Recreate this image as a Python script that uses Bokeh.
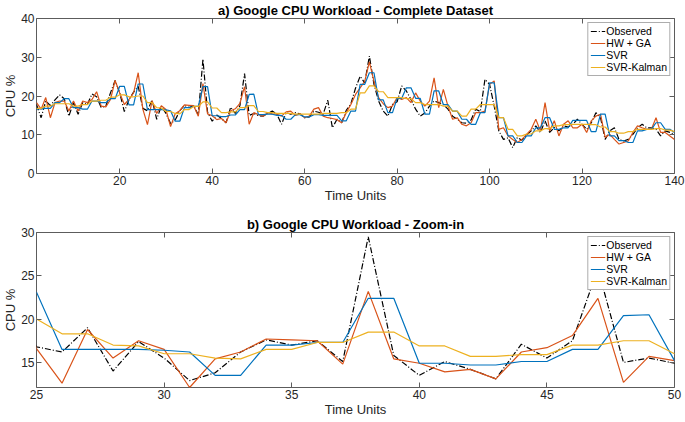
from bokeh.plotting import figure
from bokeh.models import Range1d, FixedTicker, LinearAxis
from bokeh.layouts import column
from bokeh.embed import file_html
from bokeh.resources import INLINE

# ---------------- data ----------------
time_units = list(range(2, 141))

observed = [17.8, 14.4, 18.7, 17.5, 19.0, 20.3, 19.3, 14.8, 18.3, 15.3,
            18.3, 17.8, 20.5, 19.8, 17.0, 17.4, 20.8, 24.0, 20.8, 16.0,
            19.0, 21.0, 22.5, 16.8, 16.2, 19.0, 14.0, 17.4, 15.5, 12.9,
            13.8, 16.2, 17.6, 17.0, 17.5, 15.1, 29.5, 15.8, 13.5, 15.1,
            14.2, 13.1, 17.1, 15.5, 17.5, 25.8, 15.0, 15.5, 14.9, 14.8,
            15.5, 16.1, 15.3, 12.7, 15.7, 15.3, 15.7, 15.4, 14.4, 14.6,
            16.1, 15.8, 15.3, 18.9, 11.8, 14.0, 13.1, 16.3, 18.0, 22.0,
            25.1, 23.4, 30.3, 23.0, 18.7, 16.1, 14.8, 17.8, 18.5, 22.6,
            21.3, 19.1, 16.6, 14.8, 15.6, 17.4, 18.7, 18.3, 17.8, 16.6,
            14.8, 14.0, 13.1, 13.0, 13.8, 16.6, 16.0, 24.3, 23.0, 17.4,
            11.0, 8.8, 9.2, 6.7, 9.3, 8.6, 9.9, 11.0, 12.3, 10.6,
            13.6, 10.6, 11.9, 11.0, 12.3, 12.0, 12.7, 14.0, 12.7, 11.4,
            13.1, 15.7, 14.4, 8.8, 11.0, 11.8, 8.8, 8.4, 8.8, 10.1,
            11.8, 12.7, 11.8, 11.8, 11.4, 9.7, 11.0, 10.6, 10.1]

hw_ga = [18.3, 16.6, 19.6, 14.4, 18.3, 18.7, 18.7, 16.1, 18.7, 16.1,
         18.7, 18.3, 19.1, 21.1, 17.4, 17.2, 19.1, 24.0, 20.8, 17.8,
         19.1, 20.8, 26.0, 16.6, 12.6, 18.8, 15.5, 17.5, 16.5, 12.1,
         15.4, 16.2, 17.7, 17.6, 17.5, 14.8, 23.2, 15.4, 14.9, 13.9,
         14.2, 13.1, 16.2, 16.7, 18.1, 22.4, 12.7, 15.7, 15.2, 14.8,
         15.7, 15.4, 15.3, 14.8, 15.9, 16.1, 15.0, 15.4, 14.4, 14.8,
         16.6, 17.0, 14.8, 14.4, 14.2, 13.9, 13.1, 15.7, 17.8, 20.4,
         22.1, 23.8, 28.8, 23.8, 19.6, 18.0, 17.0, 17.4, 19.6, 19.1,
         19.6, 18.3, 20.8, 18.7, 17.4, 18.7, 24.7, 17.0, 21.7, 17.4,
         14.0, 14.4, 12.7, 12.3, 13.1, 15.7, 15.7, 16.1, 23.0, 23.9,
         11.4, 11.8, 9.7, 8.8, 8.0, 8.8, 10.1, 11.4, 14.0, 11.0,
         18.3, 11.0, 13.6, 9.7, 12.7, 13.6, 11.8, 11.8, 12.7, 10.6,
         13.6, 14.8, 15.3, 9.3, 10.1, 8.8, 7.6, 8.0, 8.4, 10.6,
         12.3, 11.8, 11.4, 11.4, 14.4, 10.6, 10.6, 9.7, 8.8]

svr = [16.7, 16.7, 16.8, 16.8, 18.3, 18.3, 19.3, 19.3, 17.0, 17.0,
       16.6, 16.6, 18.7, 18.7, 18.3, 18.3, 19.3, 19.3, 22.5, 22.5,
       17.7, 17.7, 23.1, 23.1, 16.5, 16.5, 16.5, 16.5, 16.4, 16.2,
       13.5, 13.5, 17.0, 17.0, 17.3, 17.3, 22.4, 22.4, 14.9, 14.9,
       14.7, 14.7, 15.1, 15.1, 16.5, 16.5, 20.4, 20.5, 15.2, 15.2,
       15.3, 15.3, 15.0, 15.0, 14.0, 14.0, 15.2, 15.2, 14.6, 14.6,
       15.2, 15.2, 15.0, 15.0, 15.0, 15.0, 13.6, 13.6, 16.1, 16.1,
       23.0, 23.0, 26.0, 26.0, 19.0, 19.0, 15.7, 15.7, 19.4, 19.4,
       22.1, 22.1, 19.4, 19.4, 15.3, 15.3, 21.3, 21.3, 17.8, 17.8,
       16.1, 16.1, 14.0, 14.0, 12.7, 12.7, 15.7, 15.7, 23.4, 23.4,
       14.4, 14.4, 9.7, 9.7, 8.0, 8.0, 9.7, 9.7, 11.8, 11.8,
       14.4, 14.4, 11.4, 11.4, 11.8, 11.8, 13.7, 13.7, 13.7, 13.7,
       10.8, 10.8, 15.3, 15.3, 9.7, 9.7, 8.5, 8.5, 8.0, 8.0,
       11.0, 11.0, 11.4, 11.4, 13.1, 13.1, 11.4, 11.4, 10.6]

svr_kalman = [16.8, 16.8, 17.4, 17.4, 18.0, 18.0, 18.0, 18.0, 17.4, 17.4,
              17.8, 17.8, 18.7, 18.7, 18.9, 18.9, 19.7, 19.7, 20.3, 20.3,
              19.8, 19.8, 20.0, 20.0, 18.3, 18.3, 17.0, 16.9, 16.0, 16.0,
              15.5, 15.4, 16.5, 16.5, 17.3, 17.3, 18.5, 18.5, 16.9, 16.9,
              15.7, 15.7, 15.9, 15.9, 17.0, 17.0, 17.5, 17.5, 16.0, 16.0,
              15.7, 15.7, 15.5, 15.5, 15.5, 15.5, 15.3, 15.3, 15.3, 15.3,
              15.3, 15.3, 15.5, 15.5, 15.5, 15.5, 15.7, 15.7, 16.6, 16.6,
              20.8, 20.8, 22.6, 22.6, 21.1, 21.1, 19.6, 19.6, 19.6, 19.6,
              19.3, 19.3, 18.3, 18.3, 17.8, 17.8, 17.8, 17.8, 17.4, 17.4,
              16.1, 16.1, 14.8, 14.8, 16.6, 16.6, 17.8, 17.8, 17.8, 17.8,
              14.4, 14.4, 11.4, 11.4, 9.7, 9.7, 10.2, 10.2, 11.0, 11.0,
              11.6, 11.6, 12.3, 12.3, 12.6, 12.6, 12.7, 12.7, 12.7, 12.7,
              12.6, 12.6, 12.0, 12.0, 10.8, 10.8, 10.4, 10.4, 10.8, 10.8,
              11.4, 11.4, 11.4, 11.4, 11.6, 11.6, 11.2, 11.2, 10.8]

series_names = ["Observed", "HW + GA", "SVR", "SVR-Kalman"]

top_title = "a) Google CPU Workload - Complete Dataset"
bottom_title = "b) Google CPU Workload - Zoom-in"
x_label = "Time Units"
y_label = "CPU %"

top_xticks = [20, 40, 60, 80, 100, 120, 140]
top_yticks = [0, 10, 20, 30, 40]
bottom_xticks = [25, 30, 35, 40, 45, 50]
bottom_yticks = [15, 20, 25, 30]

# ---------------- styling ----------------
FONT = "Liberation Sans"
AX = "#5c5c5c"
TXT = "#262626"
COLORS = ["#000000", "#D95319", "#0072BD", "#EDB120"]


def make_fig(title, xr, yr, xt, yt, height, mb_top):
    p = figure(width=685, height=height, output_backend="svg",
               toolbar_location=None, x_range=Range1d(*xr), y_range=Range1d(*yr),
               min_border_left=31, min_border_right=11, min_border_top=mb_top,
               min_border_bottom=33, background_fill_color="white",
               border_fill_color="white")
    p.grid.visible = False
    p.outline_line_color = AX
    p.outline_line_width = 1
    p.title.text = title
    p.title.align = "center"
    p.title.text_font = FONT
    p.title.text_font_size = "13px"
    p.title.text_font_style = "bold"
    p.title.text_color = "#000000"
    p.title.standoff = 1
    p.title.offset = 0

    for ax, lab, tk in ((p.xaxis[0], x_label, xt), (p.yaxis[0], y_label, yt)):
        ax.ticker = FixedTicker(ticks=tk)
        ax.axis_label = lab
        ax.axis_label_text_font = FONT
        ax.axis_label_text_font_size = "13px"
        ax.axis_label_text_font_style = "normal"
        ax.axis_label_text_color = TXT
        ax.axis_label_standoff = 0
        ax.major_label_text_font = FONT
        ax.major_label_text_font_size = "12px"
        ax.major_label_text_color = TXT
        ax.major_label_standoff = 2
        ax.major_tick_in = 5
        ax.major_tick_out = 0
        ax.major_tick_line_color = AX
        ax.minor_tick_line_color = None
        ax.axis_line_color = None

    # MATLAB-style box: unlabeled tick marks on the top and right edges
    for side, tk in (("above", xt), ("right", yt)):
        extra = LinearAxis(ticker=FixedTicker(ticks=[], minor_ticks=tk),
                           major_label_standoff=0, major_tick_in=0,
                           major_tick_out=0, minor_tick_in=5, minor_tick_out=0,
                           minor_tick_line_color=AX, axis_line_color=None)
        p.add_layout(extra, side)

    styles = [dict(line_dash="6 2 1 2"), {}, {}, {}]
    for ys, name, col, st in zip([observed, hw_ga, svr, svr_kalman],
                                 series_names, COLORS, styles):
        p.line(time_units, ys, color=col, line_width=1.2, legend_label=name, **st)

    lg = p.legend[0]
    lg.location = "top_right"
    lg.margin = 4
    lg.padding = 2
    lg.spacing = 0
    lg.label_height = 12
    lg.glyph_height = 12
    lg.glyph_width = 15
    lg.label_standoff = 1
    lg.label_text_font = FONT
    lg.label_text_font_size = "10.5px"
    lg.label_text_color = "#000000"
    lg.border_line_color = AX
    lg.border_line_width = 1
    lg.background_fill_color = "white"
    lg.background_fill_alpha = 1
    return p


p1 = make_fig(top_title, (2, 140), (0, 40), top_xticks, top_yticks, 206, 17)
p2 = make_fig(bottom_title, (25, 50), (12.1, 30), bottom_xticks, bottom_yticks, 214, 26)

layout = column(p1, p2, spacing=0)
open("out.html", "w").write(file_html(layout, INLINE))
